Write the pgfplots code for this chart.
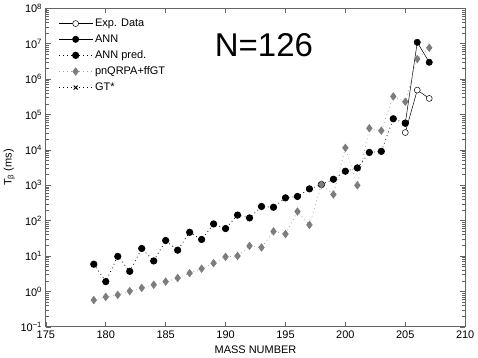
\documentclass[border=0pt]{standalone}
\usepackage{pgfplots}
\pgfplotsset{compat=1.18}
\usepackage{fontspec}
\setmainfont{Liberation Sans}

\definecolor{dgray}{RGB}{125,125,125}
\definecolor{lgray}{RGB}{165,165,165}
\definecolor{axgray}{RGB}{100,100,100}

\pgfplotstableread{
A T
179 5.9
180 1.9
181 9.8
182 3.7
183 16.4
184 7.3
185 27.6
186 14.7
187 47
188 29.5
189 81
190 60
191 144
192 120
193 252
194 240
195 442
196 484
197 794
198 1050
199 1480
200 2500
201 3100
202 8500
203 9100
204 76000
205 57000
}\annpred

\pgfplotstableread{
A T
205 57000
206 1.1e7
207 3.0e6
}\ann

\pgfplotstableread{
A T
205 31000
206 4.9e5
207 2.85e5
}\expdata

\pgfplotstableread{
A T
179 0.57
180 0.70
181 0.80
182 1.02
183 1.26
184 1.54
185 1.9
186 2.4
187 3.3
188 4.4
189 6.3
190 9.5
191 10.1
192 19.5
193 17.5
194 50
195 42
196 182
197 76
198 1050
199 550
200 11500
201 1000
202 41000
203 35000
204 325000
205 230000
206 3.7e6
207 7.7e6
}\qrpa

\begin{document}
\fontsize{11}{13}\selectfont
\begin{tikzpicture}
\begin{semilogyaxis}[
  scale only axis,
  width=420pt, height=319pt,
  xmin=175, xmax=210, ymin=1e-1, ymax=1e8,
  xtick={175,180,...,210},
  ytick={1e-1,1e0,1e1,1e2,1e3,1e4,1e5,1e6,1e7,1e8},
  yticklabels={10\textsuperscript{−1},10\textsuperscript{0},10\textsuperscript{1},10\textsuperscript{2},10\textsuperscript{3},10\textsuperscript{4},10\textsuperscript{5},10\textsuperscript{6},10\textsuperscript{7},10\textsuperscript{8}},
  minor ytick={2e-1,3e-1,4e-1,5e-1,6e-1,7e-1,8e-1,9e-1,
    2,3,4,5,6,7,8,9, 20,30,40,50,60,70,80,90,
    200,300,400,500,600,700,800,900, 2e3,3e3,4e3,5e3,6e3,7e3,8e3,9e3,
    2e4,3e4,4e4,5e4,6e4,7e4,8e4,9e4, 2e5,3e5,4e5,5e5,6e5,7e5,8e5,9e5,
    2e6,3e6,4e6,5e6,6e6,7e6,8e6,9e6, 2e7,3e7,4e7,5e7,6e7,7e7,8e7,9e7},
  /pgf/number format/assume math mode=true,
  tick align=inside,
  axis line style={axgray, line width=1pt},
  every tick/.style={axgray, line width=0.6pt},
  major tick length=5pt, minor tick length=3pt,
  xlabel={MASS NUMBER},
  ylabel={T\textsubscript{β} (ms)},
  ylabel style={yshift=-2pt},
  legend style={draw=none, fill=none, at={(0.022,0.98)}, anchor=north west,
    row sep=2.6pt, font=\fontsize{11}{13}\selectfont},
  legend cell align=left,
  legend image code/.code={
    \draw[mark repeat=2,mark phase=2] plot coordinates {(0pt,0pt) (17pt,0pt) (34pt,0pt)};
  },
]
\addplot[black, line width=0.5pt, mark=*, mark size=3pt,
  mark options={fill=white, solid, line width=0.5pt}] table[x=A,y=T]{\expdata};
\addlegendentry{Exp. Data}
\addplot[black, line width=0.5pt, mark=*, mark size=3.2pt,
  mark options={solid}] table[x=A,y=T]{\ann};
\addlegendentry{ANN}
\addplot[black, line width=0.8pt, dash pattern=on 0.8pt off 3.2pt, mark=*, mark size=3.2pt,
  mark options={solid}] table[x=A,y=T]{\annpred};
\addlegendentry{ANN pred.}
\addplot[lgray, line width=0.8pt, dash pattern=on 0.8pt off 3.2pt, mark=diamond*, mark size=3.6pt,
  mark options={solid, dgray, fill=dgray}] table[x=A,y=T]{\qrpa};
\addlegendentry{pnQRPA+ffGT}
\addlegendimage{black, line width=0.8pt, dash pattern=on 0.8pt off 3.2pt, mark=x, mark size=2.8pt,
  mark options={solid, line width=1pt}}
\addlegendentry{GT*}
\node[font=\fontsize{33}{36}\selectfont] at (axis cs:193.2,9.4e6) {N=126};
\end{semilogyaxis}
\end{tikzpicture}
\end{document}
